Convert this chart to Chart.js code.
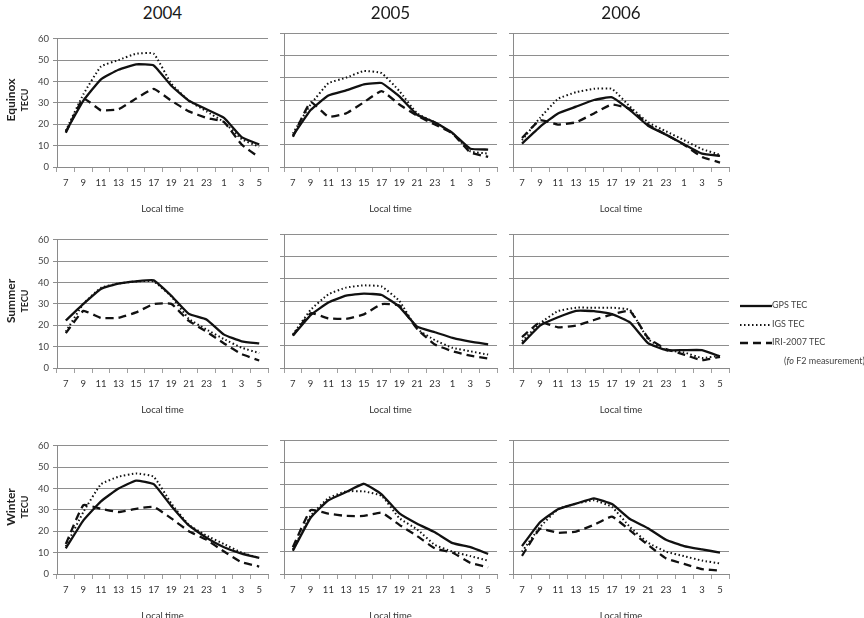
<!DOCTYPE html>
<html lang="en">
<head>
    <meta charset="UTF-8">
    <title>GPS, IGS and IRI-2007 TEC by local time</title>
    <script src="https://cdn.jsdelivr.net/npm/chart.js"></script>
    <style>
        body {
            margin: 0;
            padding: 0;
            background: #fff;
            font-family: Lato, "Open Sans", sans-serif;
        }

        #page {
            position: relative;
            width: 864px;
            height: 618px;
            overflow: hidden;
        }

        canvas {
            position: absolute;
        }

        .year {
            position: absolute;
            top: 2px;
            font-size: 17px;
            color: #1a1a1a;
            transform: translateX(-50%);
        }

        .season {
            position: absolute;
            transform: translate(-50%, -50%) rotate(-90deg);
            text-align: center;
            font-weight: bold;
            color: #222;
            line-height: 14px;
            white-space: nowrap;
        }

        .season span {
            display: block;
            font-size: 9px;
            line-height: 13px;
        }

        .legend {
            position: absolute;
            left: 740px;
            font-size: 9px;
            color: #444;
            white-space: nowrap;
        }

        .legend svg {
            vertical-align: middle;
        }
    </style>
</head>
<body>
<div id="page"></div>

<script>
    const categories = ['7', '9', '11', '13', '15', '17', '19', '21', '23', '1', '3', '5'];
    const yTicks = [0, 10, 20, 30, 40, 50, 60];
    const years = ['2004', '2005', '2006'];
    const seasons = ['Equinox', 'Summer', 'Winter'];
    const seriesNames = ['GPS TEC', 'IGS TEC', 'IRI-2007 TEC'];

    // Equinox
    const eq04Gps = [16.5, 31, 41, 45.5, 48, 47.5, 38, 31, 27, 23, 14, 10.5];
    const eq04Igs = [17, 34, 47, 50, 53, 53, 39, 31, 26, 21, 13, 9.5];
    const eq04Iri = [16, 32, 26.5, 27, 32, 36.5, 31, 26, 23, 21, 10.5, 4.5];
    const eq05Gps = [14, 25.5, 32, 34.3, 37, 37.6, 31.6, 23.4, 20, 15.2, 8.2, 7.8];
    const eq05Igs = [15, 28, 37.5, 40, 43, 42, 34, 24, 20, 15, 7, 6];
    const eq05Iri = [13.5, 29, 22.5, 24, 29, 34, 28, 23, 19, 15, 6.5, 4.5];
    const eq06Gps = [10.5, 18, 24, 27, 30, 31.2, 25.5, 18.5, 14.5, 10.2, 6, 5];
    const eq06Igs = [12, 22, 30.5, 33.5, 35, 35, 27, 20, 16, 12, 8, 5.5];
    const eq06Iri = [13, 21, 19, 20, 24, 28, 26, 19, 14.5, 10, 4.5, 2];

    // Summer
    const su04Gps = [22.2, 30, 37, 39.5, 40.5, 41, 33.8, 25.3, 22.7, 15.6, 12.5, 11.5];
    const su04Igs = [17, 30, 37.5, 39.5, 40.5, 40.5, 33.5, 23, 18, 13.5, 9.5, 7];
    const su04Iri = [16.3, 26.7, 23.4, 23.5, 26, 29.9, 30, 22, 17, 11.5, 6.5, 3.5];
    const su05Gps = [14.5, 23.7, 29.3, 32.4, 33.3, 32.7, 27.4, 18.5, 16, 13.5, 11.8, 10.6];
    const su05Igs = [15, 26, 33, 36, 37, 36.5, 30, 17.5, 12.5, 9, 7.5, 6];
    const su05Iri = [14.5, 24.5, 22.2, 22, 24, 28.6, 28, 17.5, 10.5, 7.5, 5.5, 4.2];
    const su06Gps = [10.8, 19, 22.7, 25.6, 25.5, 24.1, 20.4, 11.1, 8, 8, 8, 5.2];
    const su06Igs = [12, 20, 25.5, 27, 27, 27, 26, 13, 8, 7, 4.5, 5.5];
    const su06Iri = [13.8, 20.5, 18.2, 19, 21.5, 24, 25.5, 13.5, 8.5, 6, 3.5, 5];

    // Winter
    const wi04Gps = [12, 25.1, 34, 40, 43.7, 42, 31.8, 22.7, 17, 12.5, 9.5, 7.5];
    const wi04Igs = [13, 29, 42, 45.5, 47, 45.5, 33, 23, 18, 14, 10, 7.5];
    const wi04Iri = [14, 32.2, 30.5, 29, 30.5, 31.4, 26, 20, 16, 10.5, 5.5, 3.5];
    const wi05Gps = [10.4, 25.2, 33, 36.7, 40.4, 35.7, 27.1, 22.5, 18.7, 13.8, 12, 9];
    const wi05Igs = [11, 26, 34, 37, 37, 35, 25, 20, 13, 10, 8, 6];
    const wi05Iri = [12, 28.6, 27, 26, 26, 27.5, 22, 17, 11.5, 9.5, 5, 3];
    const wi06Gps = [12.5, 23.2, 29, 31.5, 33.9, 31.3, 24.6, 20.5, 15.3, 12.5, 11, 9.6];
    const wi06Igs = [10, 21, 29, 31.5, 33, 30, 21, 14, 10, 8, 6, 4.7];
    const wi06Iri = [8.1, 20.2, 18.4, 19, 22, 25.7, 19.5, 13, 7, 4.5, 2.2, 1.5];

    const panelData = [
        [[eq04Gps, eq04Igs, eq04Iri], [eq05Gps, eq05Igs, eq05Iri], [eq06Gps, eq06Igs, eq06Iri]],
        [[su04Gps, su04Igs, su04Iri], [su05Gps, su05Igs, su05Iri], [su06Gps, su06Igs, su06Iri]],
        [[wi04Gps, wi04Igs, wi04Iri], [wi05Gps, wi05Igs, wi05Iri], [wi06Gps, wi06Igs, wi06Iri]]
    ];

    // layout of the 3x3 grid (plot areas in page pixels)
    const plotLeft = [57, 284, 513];
    const plotWidth = [211, 213, 216];
    const plotTop = [33, 234, 440];
    const plotHeight = 134;
    const axisW = 27;
    const axisH = 48;
    const padTop = 4;
    const padRight = 6;

    const fontFamily = 'Lato, "Open Sans", sans-serif';
    const lineStyles = [
        { borderWidth: 2.3, borderDash: [] },
        { borderWidth: 2, borderDash: [1.5, 2.5] },
        { borderWidth: 2.3, borderDash: [8, 5] }
    ];

    const page = document.getElementById('page');

    function makePanel(row, col) {
        const canvas = document.createElement('canvas');
        const w = axisW + plotWidth[col] + padRight;
        const h = padTop + plotHeight + axisH;
        canvas.width = w;
        canvas.height = h;
        canvas.style.width = w + 'px';
        canvas.style.height = h + 'px';
        canvas.style.left = (plotLeft[col] - axisW) + 'px';
        canvas.style.top = (plotTop[row] - padTop) + 'px';
        page.appendChild(canvas);

        const datasets = panelData[row][col].map((values, i) => ({
            label: seriesNames[i],
            data: values,
            borderColor: '#111',
            borderWidth: lineStyles[i].borderWidth,
            borderDash: lineStyles[i].borderDash,
            borderCapStyle: 'butt',
            pointRadius: 0,
            tension: 0.12,
            fill: false
        }));

        new Chart(canvas.getContext('2d'), {
            type: 'line',
            data: { labels: categories, datasets: datasets },
            options: {
                responsive: false,
                animation: false,
                events: [],
                layout: { padding: { top: padTop, right: padRight, left: 0, bottom: 0 } },
                plugins: { legend: { display: false }, tooltip: { enabled: false } },
                scales: {
                    x: {
                        offset: true,
                        grid: { offset: true, drawOnChartArea: false, tickLength: 5, color: '#a0a0a0' },
                        border: { color: '#8a8a8a' },
                        ticks: {
                            autoSkip: false,
                            maxRotation: 0,
                            padding: 5,
                            color: '#333',
                            font: { family: fontFamily, size: 9.5 }
                        },
                        title: {
                            display: true,
                            text: 'Local time',
                            color: '#333',
                            padding: { top: 8, bottom: 0 },
                            font: { family: fontFamily, size: 9.5 }
                        },
                        afterFit: scale => { scale.height = axisH; }
                    },
                    y: {
                        min: 0,
                        max: 60,
                        afterBuildTicks: scale => { scale.ticks = yTicks.map(v => ({ value: v })); },
                        grid: { color: '#8e8e8e', tickLength: 4 },
                        border: { color: '#8a8a8a' },
                        ticks: {
                            display: col === 0,
                            padding: 4,
                            color: '#444',
                            font: { family: fontFamily, size: 9.5 }
                        },
                        afterFit: scale => { scale.width = axisW; }
                    }
                }
            }
        });
    }

    for (let r = 0; r < 3; r++) {
        for (let c = 0; c < 3; c++) {
            makePanel(r, c);
        }
    }

    // year titles
    years.forEach((y, c) => {
        const d = document.createElement('div');
        d.className = 'year';
        d.style.left = (plotLeft[c] + plotWidth[c] / 2) + 'px';
        d.textContent = y;
        page.appendChild(d);
    });

    // season / TECU axis titles
    seasons.forEach((s, r) => {
        const d = document.createElement('div');
        d.className = 'season';
        d.style.left = '17px';
        d.style.top = (plotTop[r] + plotHeight / 2) + 'px';
        d.style.fontSize = '12px';
        d.innerHTML = s + '<span>TECU</span>';
        page.appendChild(d);
    });

    // legend
    const legendRows = [
        { top: 305, dash: '' },
        { top: 324, dash: '1.5,2.5' },
        { top: 342, dash: '8,5' }
    ];
    legendRows.forEach((lr, i) => {
        const d = document.createElement('div');
        d.className = 'legend';
        d.style.top = (lr.top - 6) + 'px';
        d.innerHTML = '<svg width="32" height="6"><line x1="0" y1="3" x2="32" y2="3" stroke="#111" stroke-width="' +
            lineStyles[i].borderWidth + '"' + (lr.dash ? ' stroke-dasharray="' + lr.dash + '"' : '') + '/></svg>' +
            seriesNames[i];
        page.appendChild(d);
    });
    const note = document.createElement('div');
    note.className = 'legend';
    note.style.top = '355px';
    note.style.left = '784px';
    note.innerHTML = '(<i>fo</i> F2 measurement)';
    page.appendChild(note);
</script>
</body>
</html>
